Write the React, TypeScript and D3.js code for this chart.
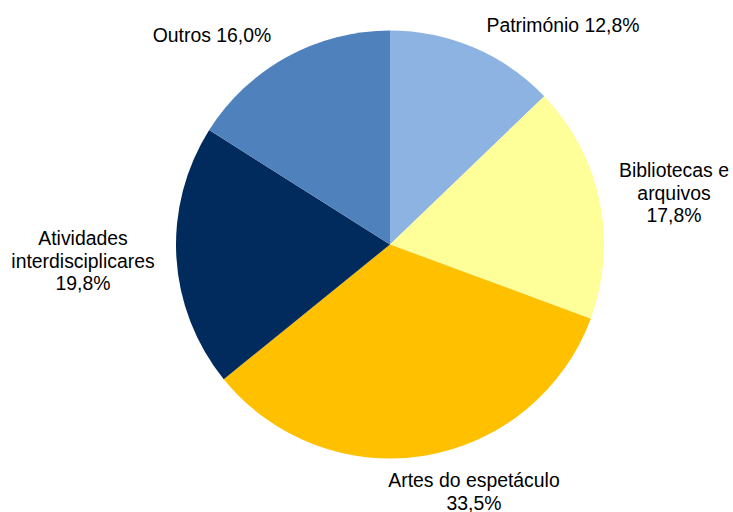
import React, { useEffect, useRef } from "react";
import * as d3 from "d3";

// slice data, clockwise from 12 o'clock
const categories = [
  "Património",
  "Bibliotecas e arquivos",
  "Artes do espetáculo",
  "Atividades interdisciplicares",
  "Outros",
];
const values = [12.8, 17.8, 33.5, 19.8, 16.0];
const labelLines = [
  ["Património 12,8%"],
  ["Bibliotecas e", "arquivos", "17,8%"],
  ["Artes do espetáculo", "33,5%"],
  ["Atividades", "interdisciplicares", "19,8%"],
  ["Outros 16,0%"],
];

const colors = ["#8DB3E2", "#FFFF99", "#FFC000", "#002B5C", "#4F81BD"];
// label anchors (first baseline) — layout only
const labelPos: [number, number][] = [
  [563, 32],
  [674, 177],
  [474, 487],
  [83, 245],
  [212, 42],
];

const App = () => {
  const svgRef = useRef<SVGSVGElement>(null);

  useEffect(() => {
    const width = 733;
    const height = 512;
    const cx = 390;
    const cy = 244.5;
    const radius = 214;

    const svg = d3.select(svgRef.current);
    svg.selectAll("*").remove();
    svg.attr("width", width).attr("height", height);

    const data = categories.map((c, i) => ({ name: c, value: values[i], i }));

    const pie = d3
      .pie<any>()
      .value((d) => d.value)
      .sort(null);
    const arc = d3.arc<any>().innerRadius(0).outerRadius(radius);

    const g = svg.append("g").attr("transform", `translate(${cx},${cy})`);
    g.selectAll("path")
      .data(pie(data))
      .enter()
      .append("path")
      .attr("d", arc)
      .attr("fill", (d) => colors[d.data.i]);

    const labels = svg
      .selectAll(".lbl")
      .data(data)
      .enter()
      .append("text")
      .attr("class", "lbl")
      .attr("text-anchor", "middle")
      .attr("font-family", "'Liberation Sans', Arial, sans-serif")
      .attr("font-size", 19.4)
      .attr("fill", "#000");

    labels
      .selectAll("tspan")
      .data((d) => labelLines[d.i].map((t) => ({ t, i: d.i })))
      .enter()
      .append("tspan")
      .attr("x", (d) => labelPos[d.i][0])
      .attr("y", (d, j) => labelPos[d.i][1] + j * 22.5)
      .text((d) => d.t);
  }, []);

  return (
    <svg
      ref={svgRef}
      style={{ position: "absolute", left: 0, top: 0, display: "block" }}
    ></svg>
  );
};

export default App;
